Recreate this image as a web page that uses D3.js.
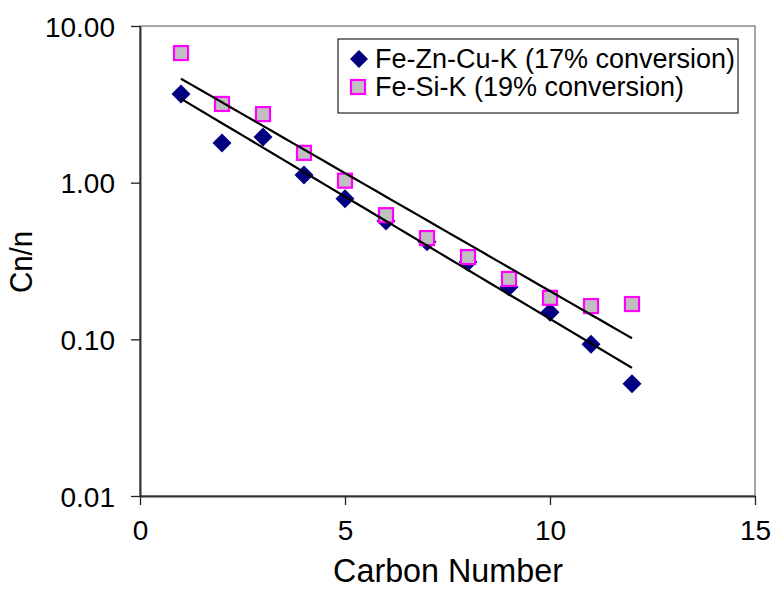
<!DOCTYPE html>
<html><head><meta charset="utf-8">
<script src="https://cdn.jsdelivr.net/npm/d3@7"></script>
<style>html,body{margin:0;padding:0;background:#fff;}svg{display:block;font-family:"Liberation Sans",Arial,sans-serif;}</style>
</head><body>
<script>
const carbonNumbers = [1,2,3,4,5,6,7,8,9,10,11,12];
const feZnCuK = [3.68,1.79,1.96,1.12,0.79,0.57,0.42,0.312,0.216,0.149,0.093,0.052];
const feSiK = [6.72,3.18,2.74,1.55,1.03,0.62,0.443,0.335,0.243,0.184,0.163,0.168];
const seriesNames = ["Fe-Zn-Cu-K (17% conversion)","Fe-Si-K (19% conversion)"];
const xTicks = [0,5,10,15];
const yTicks = [0.01,0.1,1,10];

const W=775,H=589;
const svg=d3.select("body").append("svg").attr("width",W).attr("height",H);
const x=d3.scaleLinear().domain([0,15]).range([140,755]);
const y=d3.scaleLog().domain([0.01,10]).range([496,26]);

// plot border
svg.append("rect").attr("x",140).attr("y",26).attr("width",615).attr("height",470)
  .attr("fill","none").attr("stroke","#8a8a8a").attr("stroke-width",1.5);

// axes
const yAxis=d3.axisLeft(y).tickValues(yTicks).tickFormat(d3.format(".2f")).tickSizeOuter(0).tickSizeInner(9).tickPadding(16);
const gy=svg.append("g").attr("transform","translate(140,0)").call(yAxis);
const xAxis=d3.axisBottom(x).tickValues(xTicks).tickFormat(d3.format("d")).tickSizeOuter(0).tickSizeInner(9).tickPadding(14);
const gx=svg.append("g").attr("transform","translate(0,496)").call(xAxis);
[gx,gy].forEach(g=>{
  g.select(".domain").attr("stroke","#333").attr("stroke-width",2);
  g.selectAll(".tick line").attr("stroke","#222").attr("stroke-width",1.3);
  g.selectAll(".tick text").attr("fill","#000").style("font-size","28px").style("font-family","Liberation Sans, Arial, sans-serif");
});
gy.selectAll(".tick text").attr("dy","0.36em");
gx.selectAll(".tick text").attr("dy","0.75em");

// axis titles
svg.append("text").attr("transform","translate(448,582) scale(0.95,1)").attr("text-anchor","middle")
  .style("font-size","34px").text("Carbon Number");
svg.append("text").attr("transform","translate(32,262) rotate(-90) scale(0.95,1)").attr("text-anchor","middle")
  .style("font-size","31px").text("Cn/n");

// markers
const blue="#000080", mag="#ff00ff";
svg.append("g").selectAll("path").data(carbonNumbers.map((c,i)=>[c,feZnCuK[i]])).join("path")
  .attr("d","M0,-9.5L9.5,0L0,9.5L-9.5,0Z")
  .attr("transform",d=>`translate(${x(d[0])},${y(d[1])})`).attr("fill",blue);
svg.append("g").selectAll("rect").data(carbonNumbers.map((c,i)=>[c,feSiK[i]])).join("rect")
  .attr("x",d=>x(d[0])-7).attr("y",d=>y(d[1])-7).attr("width",14).attr("height",14)
  .attr("fill","#c0c0c0").attr("stroke",mag).attr("stroke-width",2.2);

// exponential trendlines (least squares on log values)
function fit(xs,ys){
  const ly=ys.map(Math.log);
  const mx=d3.mean(xs),my=d3.mean(ly);
  const b=d3.sum(xs.map((v,i)=>(v-mx)*(ly[i]-my)))/d3.sum(xs.map(v=>(v-mx)*(v-mx)));
  const a=my-b*mx;
  return v=>Math.exp(a+b*v);
}
const line=d3.line().x(d=>x(d[0])).y(d=>y(d[1]));
[feZnCuK,feSiK].forEach(s=>{
  const f=fit(carbonNumbers,s);
  const pts=d3.range(1,12.001,0.25).map(v=>[v,f(v)]);
  svg.append("path").attr("d",line(pts)).attr("fill","none").attr("stroke","#000").attr("stroke-width",2.2);
});

// legend
const lg=svg.append("g");
lg.append("rect").attr("x",338).attr("y",39).attr("width",400).attr("height",74)
  .attr("fill","#fff").attr("stroke","#222").attr("stroke-width",1.2);
lg.append("path").attr("d","M0,-9L9,0L0,9L-9,0Z").attr("transform","translate(359,59)").attr("fill",blue);
lg.append("rect").attr("x",351).attr("y",80).attr("width",14).attr("height",14)
  .attr("fill","#c0c0c0").attr("stroke",mag).attr("stroke-width",2.2);
lg.append("text").attr("x",375).attr("y",68).style("font-size","27px").text(seriesNames[0]);
lg.append("text").attr("x",375).attr("y",96).style("font-size","27px").text(seriesNames[1]);
</script>
</body></html>
